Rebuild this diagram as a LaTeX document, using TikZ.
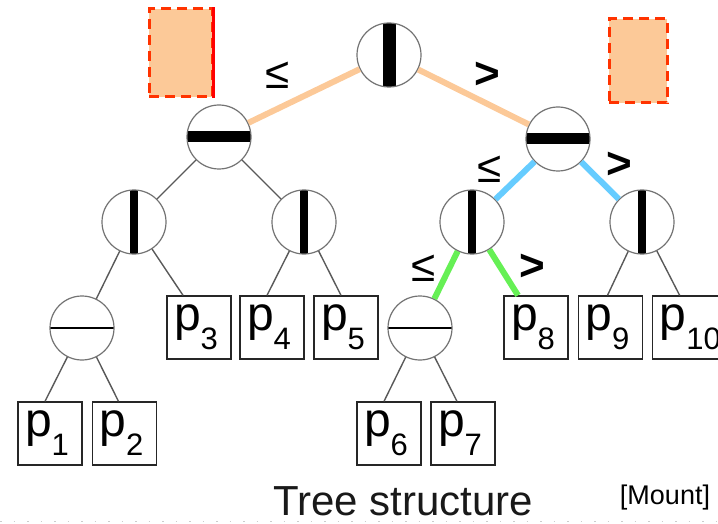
\documentclass[tikz,border=0pt]{standalone}
\usepackage{fontspec}
\setmainfont{Liberation Sans}

\definecolor{peach}{RGB}{252,201,152}
\definecolor{dashred}{RGB}{255,51,0}
\definecolor{skyblue}{RGB}{102,204,255}
\definecolor{lightgreen}{RGB}{102,240,85}

\newcommand{\pleaf}[1]{\makebox[50pt][l]{\fontsize{48}{48}\selectfont p\raisebox{-19pt}{\fontsize{31}{31}\selectfont #1}}}

\begin{document}
\begin{tikzpicture}[x=1pt,y=-1pt,
  split/.style={circle, draw=black!55, line width=1.2pt, fill=white, minimum size=64pt, inner sep=0pt},
  vbar/.style={split, path picture={\draw[black, line width=#1] (path picture bounding box.north) -- (path picture bounding box.south);}},
  hbar/.style={split, path picture={\draw[black, line width=#1] (path picture bounding box.west) -- (path picture bounding box.east);}},
  leaf/.style={rectangle, draw=black!85, line width=1.3pt, minimum width=64pt, minimum height=63pt, inner sep=0pt},
  thin/.style={draw=black!65, line width=1.4pt},
  thick/.style={line width=6pt},
  region/.style={rectangle, fill=peach, draw=dashred, line width=3pt, dash pattern=on 10pt off 6pt, inner sep=0pt},
  rel/.style={font=\fontsize{44}{44}\selectfont}]

\clip (0,0) rectangle (718,524);

\node[region, minimum width=63pt, minimum height=88pt] (boxa) at (180.5,53) {};
\draw[red, line width=3pt] (boxa.north east) -- (boxa.south east);
\node[region, minimum width=58pt, minimum height=84pt] (boxb) at (638,61) {};

\node[vbar=13pt] (root) at (389,55) {};

\node[hbar=11pt] (nl) at (219,137) {};
\node[hbar=11pt] (nr) at (558,139) {};

\node[vbar=8pt] (nll) at (134,222) {};
\node[vbar=8pt] (nlr) at (304,222) {};
\node[vbar=8pt] (nrl) at (472,222) {};
\node[vbar=8pt] (nrr) at (642,222) {};

\node[hbar=2pt] (nlll) at (82,328) {};
\node[hbar=2pt] (nrll) at (420,328) {};

\node[leaf] (p1) at (50,433.5) {\pleaf{1}};
\node[leaf] (p2) at (124.5,433.5) {\pleaf{2}};
\node[leaf] (p3) at (199,327.5) {\pleaf{3}};
\node[leaf] (p4) at (272,327.5) {\pleaf{4}};
\node[leaf] (p5) at (346,327.5) {\pleaf{5}};
\node[leaf] (p6) at (389,433.5) {\pleaf{6}};
\node[leaf] (p7) at (463,433.5) {\pleaf{7}};
\node[leaf] (p8) at (536,327.5) {\pleaf{8}};
\node[leaf] (p9) at (610.5,327.5) {\pleaf{9}};
\node[leaf, minimum width=72pt, anchor=west] (p10) at (652,327.5) {\hspace*{-8pt}\pleaf{10}};

% coloured path of the query
\draw[thick, peach] (root) -- (nl);
\draw[thick, peach] (root) -- (nr);
\draw[thick, skyblue] (nr) -- (nrl);
\draw[thick, skyblue] (nr) -- (nrr);
\draw[thick, lightgreen] (nrl) -- (nrll);
\draw[thick, lightgreen] (nrl) -- ([xshift=-18pt]p8.north);

\draw[thin] (nl) -- (nll);
\draw[thin] (nl) -- (nlr);
\draw[thin] (nll) -- (nlll);
\draw[thin] (nll) -- ([xshift=-16pt]p3.north);
\draw[thin] (nlll) -- ([xshift=-5pt]p1.north);
\draw[thin] (nlll) -- ([xshift=-6pt]p2.north);
\draw[thin] (nlr) -- ([xshift=-5pt]p4.north);
\draw[thin] (nlr) -- ([xshift=-5pt]p5.north);
\draw[thin] (nrll) -- ([xshift=-5pt]p6.north);
\draw[thin] (nrll) -- ([xshift=-6pt]p7.north);
\draw[thin] (nrr) -- ([xshift=-3pt]p9.north);
\draw[thin] (nrr) -- ([xshift=-9pt]p10.north);

\node[rel] (le1) at (278,75) {≤};
\node[rel] (gt1) at (487.5,75) {\bfseries >};
\node[rel] (le2) at (490,169) {≤};
\node[rel] (gt2) at (619,165) {\bfseries >};
\node[rel] (le3) at (424,268) {≤};
\node[rel] (gt3) at (532.5,267.5) {\bfseries >};

\node[anchor=base, font=\fontsize{42}{42}\selectfont, text=black!90] (title) at (403,515) {Tree structure};
\node[anchor=base, font=\fontsize{27}{27}\selectfont] (cite) at (665,504) {[Mount]};

\draw[black!20, line width=1pt, dash pattern=on 1.5pt off 12pt] (0,521) -- (718,521);
\end{tikzpicture}
\end{document}
